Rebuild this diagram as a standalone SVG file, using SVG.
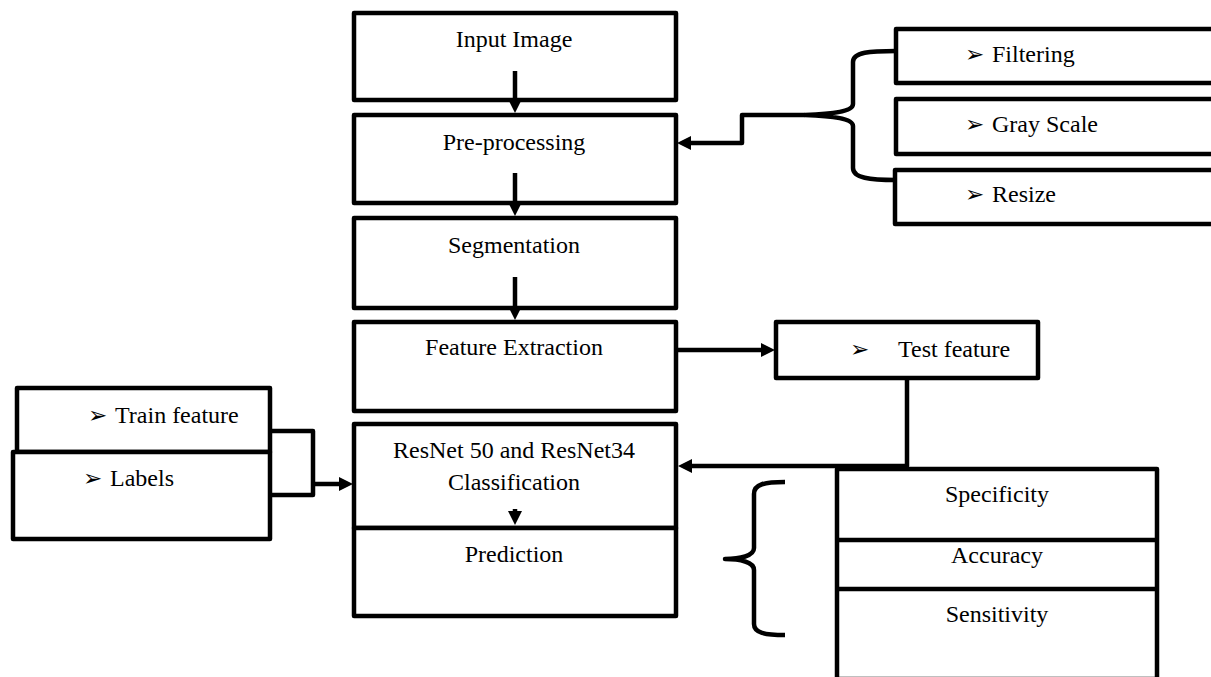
<svg xmlns="http://www.w3.org/2000/svg" width="1211" height="677" viewBox="0 0 1211 677">
<style>
.box{fill:#fff;stroke:#000;stroke-width:4.5;stroke-linejoin:round}
.ln{fill:none;stroke:#000;stroke-width:4.5;stroke-linejoin:round}
.t{font-family:"Liberation Serif","Times New Roman",serif;font-size:24px;fill:#000}
.c{text-anchor:middle}
.b{font-family:"DejaVu Sans",sans-serif;font-size:23px;fill:#000}
</style>
<defs>
<marker id="ah" viewBox="0 0 14 14" refX="7" refY="7" markerWidth="14" markerHeight="14" markerUnits="userSpaceOnUse" orient="auto">
<path d="M0,0 L14,7 L0,14 z" fill="#000"/>
</marker>
</defs>
<rect width="1211" height="677" fill="#fff"/>
<g id="n-input"><rect class="box" x="354" y="13" width="322" height="87"/><text class="t c" x="514" y="47">Input Image</text></g>
<g id="n-pre"><rect class="box" x="354" y="115" width="322" height="88"/><text class="t c" x="514" y="150">Pre-processing</text></g>
<g id="n-seg"><rect class="box" x="354" y="218" width="322" height="90"/><text class="t c" x="514" y="253">Segmentation</text></g>
<g id="n-feat"><rect class="box" x="354" y="322" width="322" height="89"/><text class="t c" x="514" y="355">Feature Extraction</text></g>
<g id="n-resnet"><rect class="box" x="354" y="424" width="322" height="104"/><text class="t c" x="514" y="458">ResNet 50 and ResNet34</text><text class="t c" x="514" y="490">Classification</text></g>
<g id="n-pred"><rect class="box" x="354" y="528" width="322" height="88"/><text class="t c" x="514" y="562">Prediction</text></g>
<g id="n-filter"><rect class="box" x="896" y="29" width="320" height="54"/><text class="b" x="965" y="62">➢</text><text class="t" x="992" y="62">Filtering</text></g>
<g id="n-gray"><rect class="box" x="896" y="99" width="320" height="55"/><text class="b" x="965" y="132">➢</text><text class="t" x="992" y="132">Gray Scale</text></g>
<g id="n-resize"><rect class="box" x="895" y="170" width="321" height="54"/><text class="b" x="965" y="202">➢</text><text class="t" x="992" y="202">Resize</text></g>
<g id="n-test"><rect class="box" x="776" y="322" width="262" height="56"/><text class="b" x="850" y="357">➢</text><text class="t" x="898" y="357">Test feature</text></g>
<g id="n-train"><rect class="box" x="17" y="388" width="253" height="64"/><text class="b" x="88" y="423">➢</text><text class="t" x="115" y="423">Train feature</text></g>
<g id="n-labels"><rect class="box" x="13" y="452" width="257" height="87"/><text class="b" x="83" y="486">➢</text><text class="t" x="110" y="486">Labels</text></g>
<g id="n-metrics"><rect class="box" x="837" y="469" width="320" height="210"/><line class="ln" x1="837" y1="540" x2="1157" y2="540"/><line class="ln" x1="837" y1="589" x2="1157" y2="589"/><text class="t c" x="997" y="502">Specificity</text><text class="t c" x="997" y="563">Accuracy</text><text class="t c" x="997" y="622">Sensitivity</text></g>
<g id="connectors">
<path class="ln" d="M515,71 V106" marker-end="url(#ah)"/>
<path class="ln" d="M515,173 V209" marker-end="url(#ah)"/>
<path class="ln" d="M515,277 V313" marker-end="url(#ah)"/>
<path class="ln" d="M515,509 V518" marker-end="url(#ah)"/>
<path class="ln" d="M676,350 H768" marker-end="url(#ah)"/>
<path class="ln" d="M907,378 V466 H685" marker-end="url(#ah)"/>
<path class="ln" d="M270,431 H313 V495 H270"/>
<path class="ln" d="M313,484 H346" marker-end="url(#ah)"/>
<path class="ln" d="M896,51 C870,51 853,52 853,62 V104 C853,112 830,114 805,115 C830,116 853,118 853,126 V168 C853,178 870,180 896,180"/>
<path class="ln" d="M805,115 H742 V143 H684" marker-end="url(#ah)"/>
<path class="ln" d="M785,482 C765,482 754,484 754,494 V548 C754,556 740,559 725,559 C740,559 754,562 754,570 V624 C754,633 765,635 785,635"/>
</g>
</svg>
